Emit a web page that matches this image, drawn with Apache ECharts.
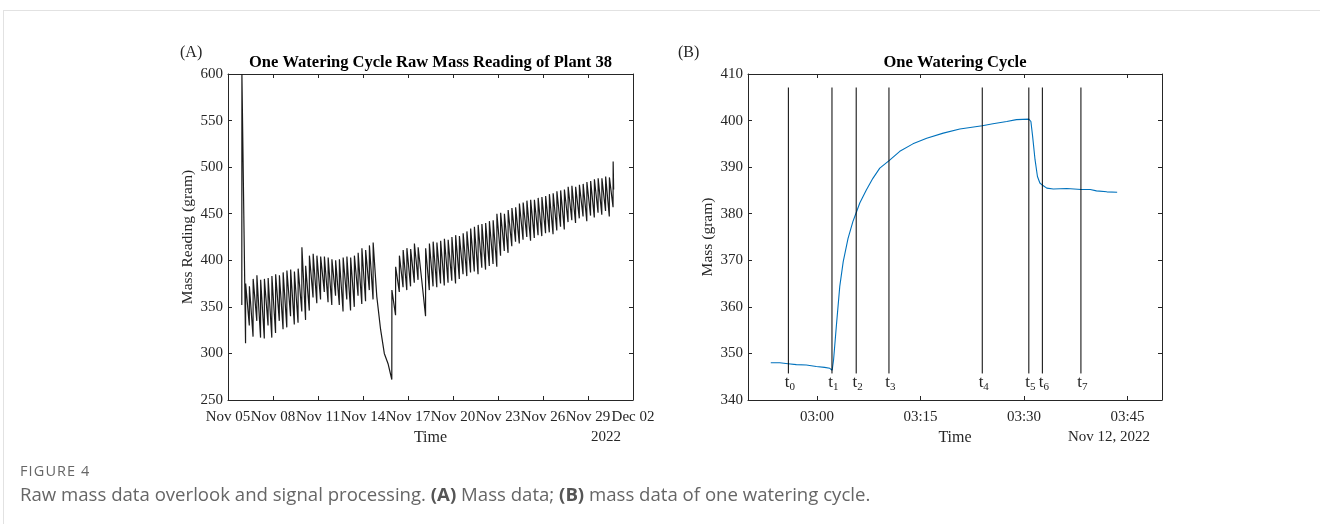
<!DOCTYPE html>
<html>
<head>
<meta charset="utf-8">
<script src="https://cdn.jsdelivr.net/npm/echarts@6/dist/echarts.min.js"></script>
<style>
	body { margin: 0; background: #fff; }
	#wrap { position: relative; width: 1320px; height: 524px; overflow: hidden; }
	#chart { position: absolute; left: 0; top: 0; width: 1320px; height: 524px; }
	.frame { position: absolute; left: 3px; top: 10px; right: 0; bottom: 0; border-left: 1px solid #e2e2e2; border-top: 1px solid #e2e2e2; }
	.cap-title { position: absolute; left: 20px; top: 462px; font-family: "Open Sans", sans-serif; font-size: 14.5px; line-height: 18px; color: #666; letter-spacing: 1.1px; }
	.cap-text { position: absolute; left: 20px; top: 483px; font-family: "Open Sans", sans-serif; font-size: 18.6px; line-height: 22px; color: #666; }
	.cap-text b { color: #555; }
</style>
</head>
<body>
<div id="wrap">
	<div class="frame"></div>
	<div id="chart"></div>
	<div class="cap-title">FIGURE 4</div>
	<div class="cap-text">Raw mass data overlook and signal processing. <b>(A)</b> Mass data; <b>(B)</b> mass data of one watering cycle.</div>
</div>
<script>
	// (A) one reading pair per 6 h watering slot, days counted from Nov 05 00:00
	var cycleStartDay = 0.92;
	var cycleStepDay = 0.25;
	// mass just before each watering
	var troughA = [352, 311, 330, 318, 335, 317, 316, 330, 317, 322,
		335, 326, 328, 340, 331, 333, 345, 336, 346, 360,
		354, 358, 366, 355, 352, 362, 352, 345, 358, 346,
		350, 362, 353, 356, 368, 358, 361, 326, 300, 289,
		272, 341, 366, 371, 368, 372, 376, 379, 378, 340,
		368, 372, 371, 375, 373, 376, 378, 375, 380, 385,
		383, 387, 388, 385, 392, 390, 394, 396, 393, 405,
		410, 408, 415, 420, 418, 422, 425, 421, 424, 427,
		426, 429, 430, 428, 432, 436, 433, 441, 443, 440,
		445, 447, 442, 448, 446, 451, 449, 453, 447, 457];
	// mass right after each watering (null = watering skipped)
	var peakA = [600, 375, 372, 380, 384, 379, 380, 381, 383, 385,
		384, 387, 389, 390, 388, 391, 414, 394, 405, 407,
		405, 404, 404, 403, 401, 400, 401, 403, 404, 403,
		405, 408, 413, 411, 416, 419, null, null, null, null,
		368, 393, 405, 411, 413, 412, 418, 414, null, 413,
		418, 420, 419, 421, 423, 422, 425, 427, 426, 429,
		431, 434, 436, 438, 439, 440, 442, 443, 450, 451,
		450, 454, 456, 457, 461, 462, 464, 465, 465, 467,
		468, 469, 471, 472, 474, 475, 476, 479, 480, 479,
		481, 482, 484, 485, 487, 488, 488, 490, 489, 506];
	var lastReadingA = 476;
	var dayTicksA = ['Nov 05', 'Nov 08', 'Nov 11', 'Nov 14', 'Nov 17', 'Nov 20', 'Nov 23', 'Nov 26', 'Nov 29', 'Dec 02'];

	// (B) minutes after 03:00 and mass
	var minuteB = [-6.7, -5.4, -4.2, -3.0, -1.55, -0.1, 1.1, 1.85, 2.2, 2.4,
		2.8, 3.3, 3.8, 4.5, 5.2, 5.65, 6.2, 7.15, 8.1, 9.1,
		10.45, 12.0, 13.9, 15.9, 18.3, 20.7, 23.95, 25.5, 27.5, 28.9,
		30.7, 31.0, 31.25, 31.6, 31.95, 32.3, 32.7, 33.3, 34.25, 36.2,
		38.3, 39.6, 40.5, 42.0, 43.5];
	var massB = [348.0, 348.0, 347.8, 347.6, 347.5, 347.2, 347.0, 346.8, 346.4, 348.6,
		355.8, 364.4, 369.7, 374.7, 378.3, 380.1, 382.3, 385.1, 387.6, 389.8,
		391.4, 393.4, 395.0, 396.2, 397.3, 398.2, 398.9, 399.3, 399.8, 400.2,
		400.3, 399.8, 396.6, 391.6, 388.0, 386.6, 386.1, 385.5, 385.3, 385.4,
		385.2, 385.2, 384.9, 384.7, 384.6];
	var eventMinuteB = [-4.15, 2.17, 5.68, 10.43, 23.95, 30.7, 32.66, 38.25];
	var eventLineB = [345.7, 407.1];
	var timeTicksB = [0, 15, 30, 45];

	var serif = 'Liberation Serif';
	var ink = '#262626';

	var seriesAData = [];
	for (var k = 0; k < troughA.length; k++) {
		var d = cycleStartDay + k * cycleStepDay;
		seriesAData.push([d, troughA[k]]);
		if (peakA[k] !== null) seriesAData.push([d + 0.007, peakA[k]]);
	}
	seriesAData.push([cycleStartDay + (troughA.length - 1) * cycleStepDay + 0.04, lastReadingA]);

	var seriesBData = [];
	for (var i = 0; i < minuteB.length; i++) seriesBData.push([minuteB[i], massB[i]]);

	function clockLabel(m) {
		var total = 180 + m;
		var hh = Math.floor(total / 60), mm = total % 60;
		return (hh < 10 ? '0' : '') + hh + ':' + (mm < 10 ? '0' : '') + mm;
	}

	function boxAxis(extra) {
		var base = {
			type: 'value',
			splitLine: { show: false },
			axisLine: { show: true, onZero: false, lineStyle: { color: ink, width: 1 } },
			axisTick: { show: true, inside: true, length: 4, lineStyle: { color: ink } },
			axisLabel: { show: false, color: ink, fontFamily: serif, fontSize: 15, hideOverlap: false, showMinLabel: true, showMaxLabel: true }
		};
		for (var key in extra) {
			if (typeof extra[key] === 'object' && base[key] && !Array.isArray(extra[key])) {
				base[key] = Object.assign({}, base[key], extra[key]);
			} else {
				base[key] = extra[key];
			}
		}
		return base;
	}

	var series = [
		{
			type: 'line', xAxisIndex: 0, yAxisIndex: 0, data: seriesAData,
			showSymbol: false, symbol: 'none', sampling: null,
			lineStyle: { color: '#1a1a1a', width: 1.2 }
		},
		{
			type: 'line', xAxisIndex: 2, yAxisIndex: 2, data: seriesBData,
			showSymbol: false, symbol: 'none',
			lineStyle: { color: '#0072BD', width: 1.1 }
		}
	];
	eventMinuteB.forEach(function (t, idx) {
		series.push({
			type: 'line', xAxisIndex: 2, yAxisIndex: 2,
			symbol: 'circle', symbolSize: 0.1, showSymbol: true,
			itemStyle: { color: 'rgba(0,0,0,0)' },
			lineStyle: { color: '#000', width: 1 },
			data: [
				{
					value: [t, eventLineB[0]],
					label: {
						show: true, position: 'bottom', distance: -1, offset: [1.5, 0],
						formatter: '{t|t}{s|' + idx + '}',
						rich: {
							t: { fontFamily: serif, fontSize: 17, color: ink },
							s: { fontFamily: serif, fontSize: 11, color: ink, padding: [9, 0, 0, 0] }
						}
					}
				},
				[t, eventLineB[1]]
			]
		});
	});

	var option = {
		animation: false,
		grid: [
			{ left: 228, top: 74, width: 405, height: 326, outerBoundsMode: 'none' },
			{ left: 748, top: 74, width: 414, height: 326, outerBoundsMode: 'none' }
		],
		xAxis: [
			boxAxis({
				gridIndex: 0, position: 'bottom', min: 0, max: 27, interval: 3,
				axisLabel: { show: true, margin: 10, formatter: function (v) { return dayTicksA[Math.round(v / 3)]; } },
				name: 'Time', nameLocation: 'middle', nameGap: 30,
				nameTextStyle: { fontFamily: serif, fontSize: 16, color: ink }
			}),
			boxAxis({ gridIndex: 0, position: 'top', min: 0, max: 27, interval: 3 }),
			boxAxis({
				gridIndex: 1, position: 'bottom', min: -10, max: 50,
				axisTick: { customValues: timeTicksB },
				axisLabel: { show: true, margin: 10, customValues: timeTicksB, formatter: clockLabel },
				name: 'Time', nameLocation: 'middle', nameGap: 30,
				nameTextStyle: { fontFamily: serif, fontSize: 16, color: ink }
			}),
			boxAxis({ gridIndex: 1, position: 'top', min: -10, max: 50, axisTick: { customValues: timeTicksB } })
		],
		yAxis: [
			boxAxis({
				gridIndex: 0, position: 'left', min: 250, max: 600, interval: 50,
				axisLabel: { show: true, margin: 5 },
				name: 'Mass Reading (gram)', nameLocation: 'middle', nameGap: 32, nameRotate: 90,
				nameTextStyle: { fontFamily: serif, fontSize: 15.5, color: ink }
			}),
			boxAxis({ gridIndex: 0, position: 'right', min: 250, max: 600, interval: 50 }),
			boxAxis({
				gridIndex: 1, position: 'left', min: 340, max: 410, interval: 10,
				axisLabel: { show: true, margin: 5 },
				name: 'Mass (gram)', nameLocation: 'middle', nameGap: 32, nameRotate: 90,
				nameTextStyle: { fontFamily: serif, fontSize: 15.5, color: ink }
			}),
			boxAxis({ gridIndex: 1, position: 'right', min: 340, max: 410, interval: 10 })
		],
		graphic: [
			{ type: 'text', x: 180, y: 53, style: { text: '(A)', fontFamily: serif, fontSize: 16, fill: ink, verticalAlign: 'middle' } },
			{ type: 'text', x: 430.5, y: 63, style: { text: 'One Watering Cycle Raw Mass Reading of Plant 38', fontFamily: serif, fontWeight: 'bold', fontSize: 16.5, fill: '#000', align: 'center', verticalAlign: 'middle' } },
			{ type: 'text', x: 621, y: 437, style: { text: '2022', fontFamily: serif, fontSize: 15, fill: ink, align: 'right', verticalAlign: 'middle' } },
			{ type: 'text', x: 678, y: 53, style: { text: '(B)', fontFamily: serif, fontSize: 16, fill: ink, verticalAlign: 'middle' } },
			{ type: 'text', x: 955, y: 63, style: { text: 'One Watering Cycle', fontFamily: serif, fontWeight: 'bold', fontSize: 16.5, fill: '#000', align: 'center', verticalAlign: 'middle' } },
			{ type: 'text', x: 1150, y: 437, style: { text: 'Nov 12, 2022', fontFamily: serif, fontSize: 15, fill: ink, align: 'right', verticalAlign: 'middle' } }
		],
		series: series
	};

	var myChart = echarts.init(document.getElementById('chart'));
	myChart.setOption(option);
	window.addEventListener("resize", function() {
		myChart.resize();
	});
</script>
</body>
</html>
